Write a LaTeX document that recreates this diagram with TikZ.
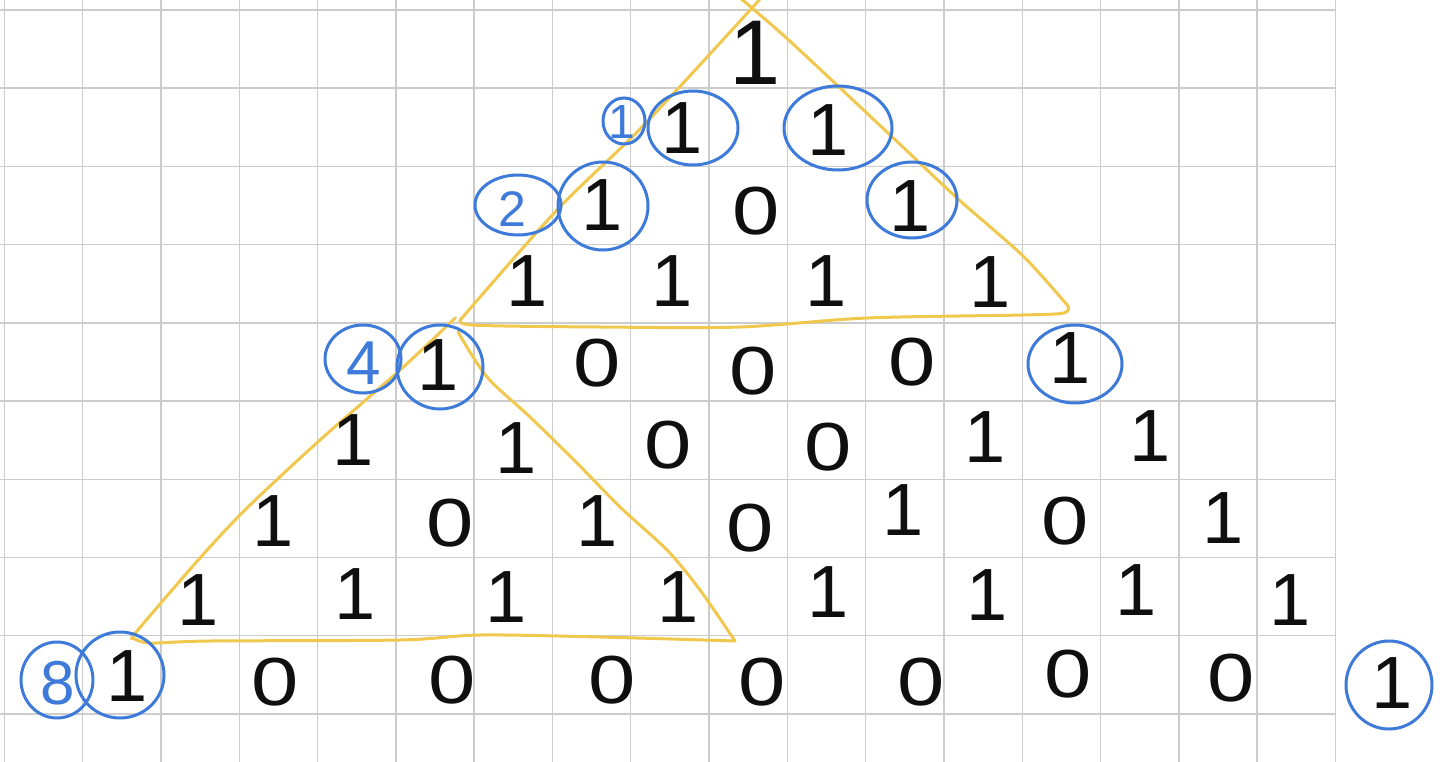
\documentclass[tikz,border=0pt]{standalone}
\usepackage{fontspec}
\setmainfont{Liberation Sans}
\usetikzlibrary{shapes.geometric}
\definecolor{gridc}{RGB}{204,204,204}
\definecolor{penblue}{RGB}{62,122,218}
\definecolor{penyel}{RGB}{240,200,78}
\definecolor{ink}{RGB}{15,15,15}
\begin{document}
\begin{tikzpicture}[x=1pt,y=-1pt,
  one/.style={text=ink, font=\fontsize{74}{74}\selectfont, inner sep=0pt},
  zero/.style={text=ink, font=\fontsize{68}{68}\selectfont, inner sep=0pt, xscale=1.25},
  lab/.style={text=penblue, font=\fontsize{62}{62}\selectfont, inner sep=0pt},
  ring/.style={ellipse, draw=penblue, line width=3pt, inner sep=0pt},
  tri/.style={draw=penyel, line width=3pt, line cap=round, line join=round},
  gridl/.style={draw=gridc, line width=1.4pt}]
\useasboundingbox[fill=white] (0,0) rectangle (1440,762);
% grid
\foreach \i in {0,...,17} \draw[gridl] ({4.3+78.3*\i},0) -- ({4.3+78.3*\i},762);
\foreach \j in {0,...,9} \draw[gridl] (0,{10+78.2*\j}) -- (1336,{10+78.2*\j});
% yellow triangles
\draw[tri] plot[smooth,tension=0.5] coordinates {(758,0) (752,8) (642,127) (557,210) (462,318)};
\draw[tri] plot[smooth,tension=0.5] coordinates {(462,318) (472,325) (600,327) (740,327) (867,318) (1023,315) (1064,313) (1068,306)};
\draw[tri] plot[smooth,tension=0.5] coordinates {(1068,306) (1023,256) (957,198) (888,133) (793,44) (752,8) (740,-2)};
\draw[tri] plot[smooth,tension=0.5] coordinates {(455,318) (450,323) (400,370) (320,440) (247,508) (200,558) (137,631) (133,638)};
\draw[tri] plot[smooth,tension=0.5] coordinates {(133,638) (150,643) (210,641) (400,640) (480,635) (600,637) (735,641)};
\draw[tri] plot[smooth,tension=0.5] coordinates {(735,641) (700,590) (667,550) (620,507) (577,463) (530,417) (487,377) (458,332)};
% digits
\node[one, font=\fontsize{92}{92}\selectfont] (r0k0) at (755,53) {1};
\node[one] (r1k0) at (682,128) {1};
\node[one] (r1k1) at (828,130) {1};
\node[one] (r2k0) at (602,205) {1};
\node[zero] (r2k1) at (756,211) {0};
\node[one] (r2k2) at (910,206) {1};
\node[one] (r3k0) at (527,281) {1};
\node[one] (r3k1) at (672,281) {1};
\node[one] (r3k2) at (826,281) {1};
\node[one] (r3k3) at (990,282) {1};
\node[one] (r4k0) at (438,365) {1};
\node[zero] (r4k1) at (597,363) {0};
\node[zero] (r4k2) at (753,371) {0};
\node[zero] (r4k3) at (912,362) {0};
\node[one] (r4k4) at (1070,358) {1};
\node[one] (r5k0) at (353,440) {1};
\node[one] (r5k1) at (516,448) {1};
\node[zero] (r5k2) at (668,445) {0};
\node[zero] (r5k3) at (828,447) {0};
\node[one] (r5k4) at (985,437) {1};
\node[one] (r5k5) at (1150,436) {1};
\node[one] (r6k0) at (273,521) {1};
\node[zero] (r6k1) at (450,523) {0};
\node[one] (r6k2) at (597,521) {1};
\node[zero] (r6k3) at (750,528) {0};
\node[one] (r6k4) at (903,510) {1};
\node[zero] (r6k5) at (1065,521) {0};
\node[one] (r6k6) at (1223,518) {1};
\node[one] (r7k0) at (198,600) {1};
\node[one] (r7k1) at (355,594) {1};
\node[one] (r7k2) at (506,597) {1};
\node[one] (r7k3) at (678,597) {1};
\node[one] (r7k4) at (828,592) {1};
\node[one] (r7k5) at (987,595) {1};
\node[one] (r7k6) at (1136,590) {1};
\node[one] (r7k7) at (1290,600) {1};
\node[one] (r8k0) at (127,676) {1};
\node[zero] (r8k1) at (275,682) {0};
\node[zero] (r8k2) at (452,680) {0};
\node[zero] (r8k3) at (612,680) {0};
\node[zero] (r8k4) at (762,682) {0};
\node[zero] (r8k5) at (921,682) {0};
\node[zero] (r8k6) at (1068,674) {0};
\node[zero] (r8k7) at (1231,678) {0};
\node[one] (r8k8) at (1392,683) {1};
% blue labels
\node[lab, font=\fontsize{48}{48}\selectfont] (l1) at (622,122) {1};
\node[lab, font=\fontsize{50}{50}\selectfont] (l2) at (512,209) {2};
\node[lab] (l4) at (364,363) {4};
\node[lab] (l8) at (58,683) {8};
% blue rings
\node[ring, minimum width=90pt, minimum height=74pt] (c1a) at (693,128) {};
\node[ring, minimum width=108pt, minimum height=84pt] (c1b) at (838,128) {};
\node[ring, minimum width=42pt, minimum height=46pt] (cl1) at (624,121) {};
\node[ring, minimum width=90pt, minimum height=88pt] (c2a) at (603,206) {};
\node[ring, minimum width=86pt, minimum height=60pt] (cl2) at (518,205) {};
\node[ring, minimum width=90pt, minimum height=76pt] (c2b) at (912,200) {};
\node[ring, minimum width=76pt, minimum height=68pt] (cl4) at (363,359) {};
\node[ring, minimum width=86pt, minimum height=84pt] (c4a) at (440,367) {};
\node[ring, minimum width=94pt, minimum height=78pt] (c4b) at (1075,364) {};
\node[ring, minimum width=72pt, minimum height=76pt] (cl8) at (57,680) {};
\node[ring, minimum width=88pt, minimum height=86pt] (c8a) at (120,675) {};
\node[ring, minimum width=86pt, minimum height=88pt] (c8b) at (1389,685) {};
\end{tikzpicture}
\end{document}
